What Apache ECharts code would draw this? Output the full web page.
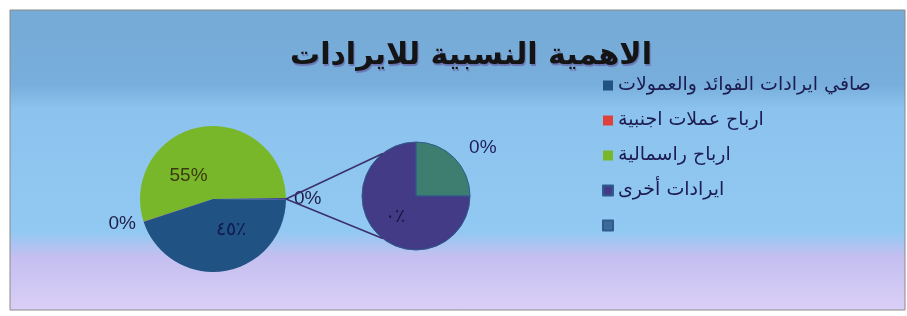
<!DOCTYPE html>
<html>
<head>
<meta charset="utf-8">
<script src="https://cdn.jsdelivr.net/npm/echarts@6/dist/echarts.min.js"></script>
<style>
  html, body { margin: 0; padding: 0; background: #fff; }
  #main { width: 907px; height: 316px; }
</style>
</head>
<body>
<div id="main"></div>
<script>
// legend order as in the picture (last entry has no text)
const legendNames = ['صافي ايرادات الفوائد والعمولات', 'ارباح عملات اجنبية', 'ارباح راسمالية', 'ايرادات أخرى', ' ']
// main pie, clockwise from the left edge
const mainNames = ['ارباح راسمالية', 'اخرى', 'صافي ايرادات الفوائد والعمولات', 'ارباح عملات اجنبية']
const mainValues = [55, null, 45, 0.02]
// second pie (split of "اخرى")
const subNames = [' ', 'ايرادات أخرى']
const subValues = [0.1, 0.3]
// labels that the picture shows in arabic digits
const arabicDigitNames = ['صافي ايرادات الفوائد والعمولات', 'ايرادات أخرى']

const colors = {
  'ارباح راسمالية': '#78b72a',
  'اخرى': '#433b85',
  'صافي ايرادات الفوائد والعمولات': '#205284',
  'ارباح عملات اجنبية': '#e0403a',
  'ايرادات أخرى': '#433b85',
  ' ': '#3e7e70'
}

const otherValue = subValues.reduce((a, b) => a + b, 0)
const mainData = mainNames.map((n, i) => ({ name: n, value: mainValues[i] === null ? otherValue : mainValues[i] }))
const total = mainData.reduce((a, d) => a + d.value, 0)

function toArabicDigits(s) {
  return s.replace(/[0-9]/g, d => '٠١٢٣٤٥٦٧٨٩'[+d]).replace('%', '٪')
}
function pctLabel(name, value) {
  const s = Math.round(value / total * 100) + '%'
  return arabicDigitNames.indexOf(name) >= 0 ? toArabicDigits(s) : s
}

// layout of both pies
const c1 = [213, 199]
const r1 = 73
const c2 = [416, 196]
const r2 = 54

// small nudges of the inside labels of the main pie
const insideNudge = {
  'ارباح راسمالية': [-18, 16],
  'صافي ايرادات الفوائد والعمولات': [12, -8]
}

const chart = echarts.init(document.getElementById('main'))

// connector lines from the "other" slice to the second pie
const a = 128 * Math.PI / 180
const p0 = [c1[0] + r1, c1[1]]
const pTop = [c2[0] + r2 * Math.cos(a), c2[1] - r2 * Math.sin(a)]
const pBot = [c2[0] + r2 * Math.cos(a), c2[1] + r2 * Math.sin(a)]

const labelFont = { fontFamily: 'Liberation Sans', fontSize: 19, color: '#1e1e48' }

const option = {
  backgroundColor: '#ffffff',
  title: {
    text: 'الاهمية النسبية للايرادات',
    left: 466,
    textAlign: 'center',
    top: 36,
    textStyle: {
      fontFamily: 'DejaVu Sans',
      fontWeight: 'bold',
      fontSize: 30,
      color: '#141414',
      textShadowColor: 'rgba(90,60,140,0.5)',
      textShadowOffsetX: 1,
      textShadowOffsetY: 2,
      textShadowBlur: 1
    }
  },
  legend: {
    orient: 'vertical',
    left: 597,
    top: 70,
    icon: 'rect',
    itemWidth: 10,
    itemHeight: 10,
    itemGap: 14,
    selectedMode: false,
    data: legendNames.map(n => n === ' ' ? { name: n, itemStyle: { color: '#3c6a9a' } } : n),
    textStyle: {
      fontFamily: 'DejaVu Sans',
      fontSize: 19,
      lineHeight: 21,
      color: '#1c1c50'
    }
  },
  graphic: [
    {
      type: 'rect',
      z: -10,
      shape: { x: 10, y: 10, width: 895, height: 300 },
      style: {
        stroke: '#8a8a8a',
        lineWidth: 1,
        fill: new echarts.graphic.LinearGradient(0, 0, 0, 1, [
          { offset: 0, color: '#76aad7' },
          { offset: 0.25, color: '#78aedb' },
          { offset: 0.33, color: '#8cc3ee' },
          { offset: 0.74, color: '#92c9f2' },
          { offset: 0.82, color: '#c4bff0' },
          { offset: 1, color: '#dacff6' }
        ])
      }
    },
    {
      type: 'line',
      z: 10,
      shape: { x1: p0[0], y1: p0[1], x2: pTop[0], y2: pTop[1] },
      style: { stroke: '#3a2f6a', lineWidth: 1.5 }
    },
    {
      type: 'line',
      z: 10,
      shape: { x1: p0[0], y1: p0[1], x2: pBot[0], y2: pBot[1] },
      style: { stroke: '#3a2f6a', lineWidth: 1.5 }
    }
  ],
  series: [
    {
      name: 'main',
      type: 'pie',
      center: c1,
      radius: r1,
      startAngle: 198,
      clockwise: true,
      avoidLabelOverlap: false,
      animation: false,
      emphasis: { disabled: true },
      labelLine: { show: false },
      labelLayout: function(params) {
        const n = mainData[params.dataIndex].name
        const d = insideNudge[n]
        return d ? { dx: d[0], dy: d[1] } : {}
      },
      data: mainData.map(d => {
        const outside = d.name === 'اخرى' || d.name === 'ارباح عملات اجنبية'
        return {
          name: d.name,
          value: d.value,
          itemStyle: { color: colors[d.name] },
          label: {
            show: true,
            position: outside ? 'outside' : 'inside',
            distanceToLabelLine: 0,
            formatter: p => pctLabel(p.name, p.value),
            ...labelFont,
            color: d.name === 'ارباح راسمالية' ? '#3a3a12' : (d.name === 'صافي ايرادات الفوائد والعمولات' ? '#101a50' : '#1e1e48')
          },
          labelLine: { show: false, length: 8, length2: 0 }
        }
      })
    },
    {
      name: 'sub',
      type: 'pie',
      center: c2,
      radius: r2,
      startAngle: 90,
      clockwise: true,
      avoidLabelOverlap: false,
      animation: false,
      emphasis: { disabled: true },
      itemStyle: { borderColor: '#2e5d8c', borderWidth: 1 },
      data: subNames.map((n, i) => ({
        name: n,
        value: subValues[i],
        itemStyle: { color: colors[n] },
        label: {
          show: true,
          position: n === ' ' ? 'outside' : 'inside',
          formatter: p => pctLabel(p.name, p.value),
          ...labelFont,
          color: n === ' ' ? '#1e1e5a' : '#1a1640'
        },
        labelLine: { show: false, length: 14, length2: 0 }
      }))
    }
  ]
}

chart.setOption(option)
</script>
</body>
</html>
